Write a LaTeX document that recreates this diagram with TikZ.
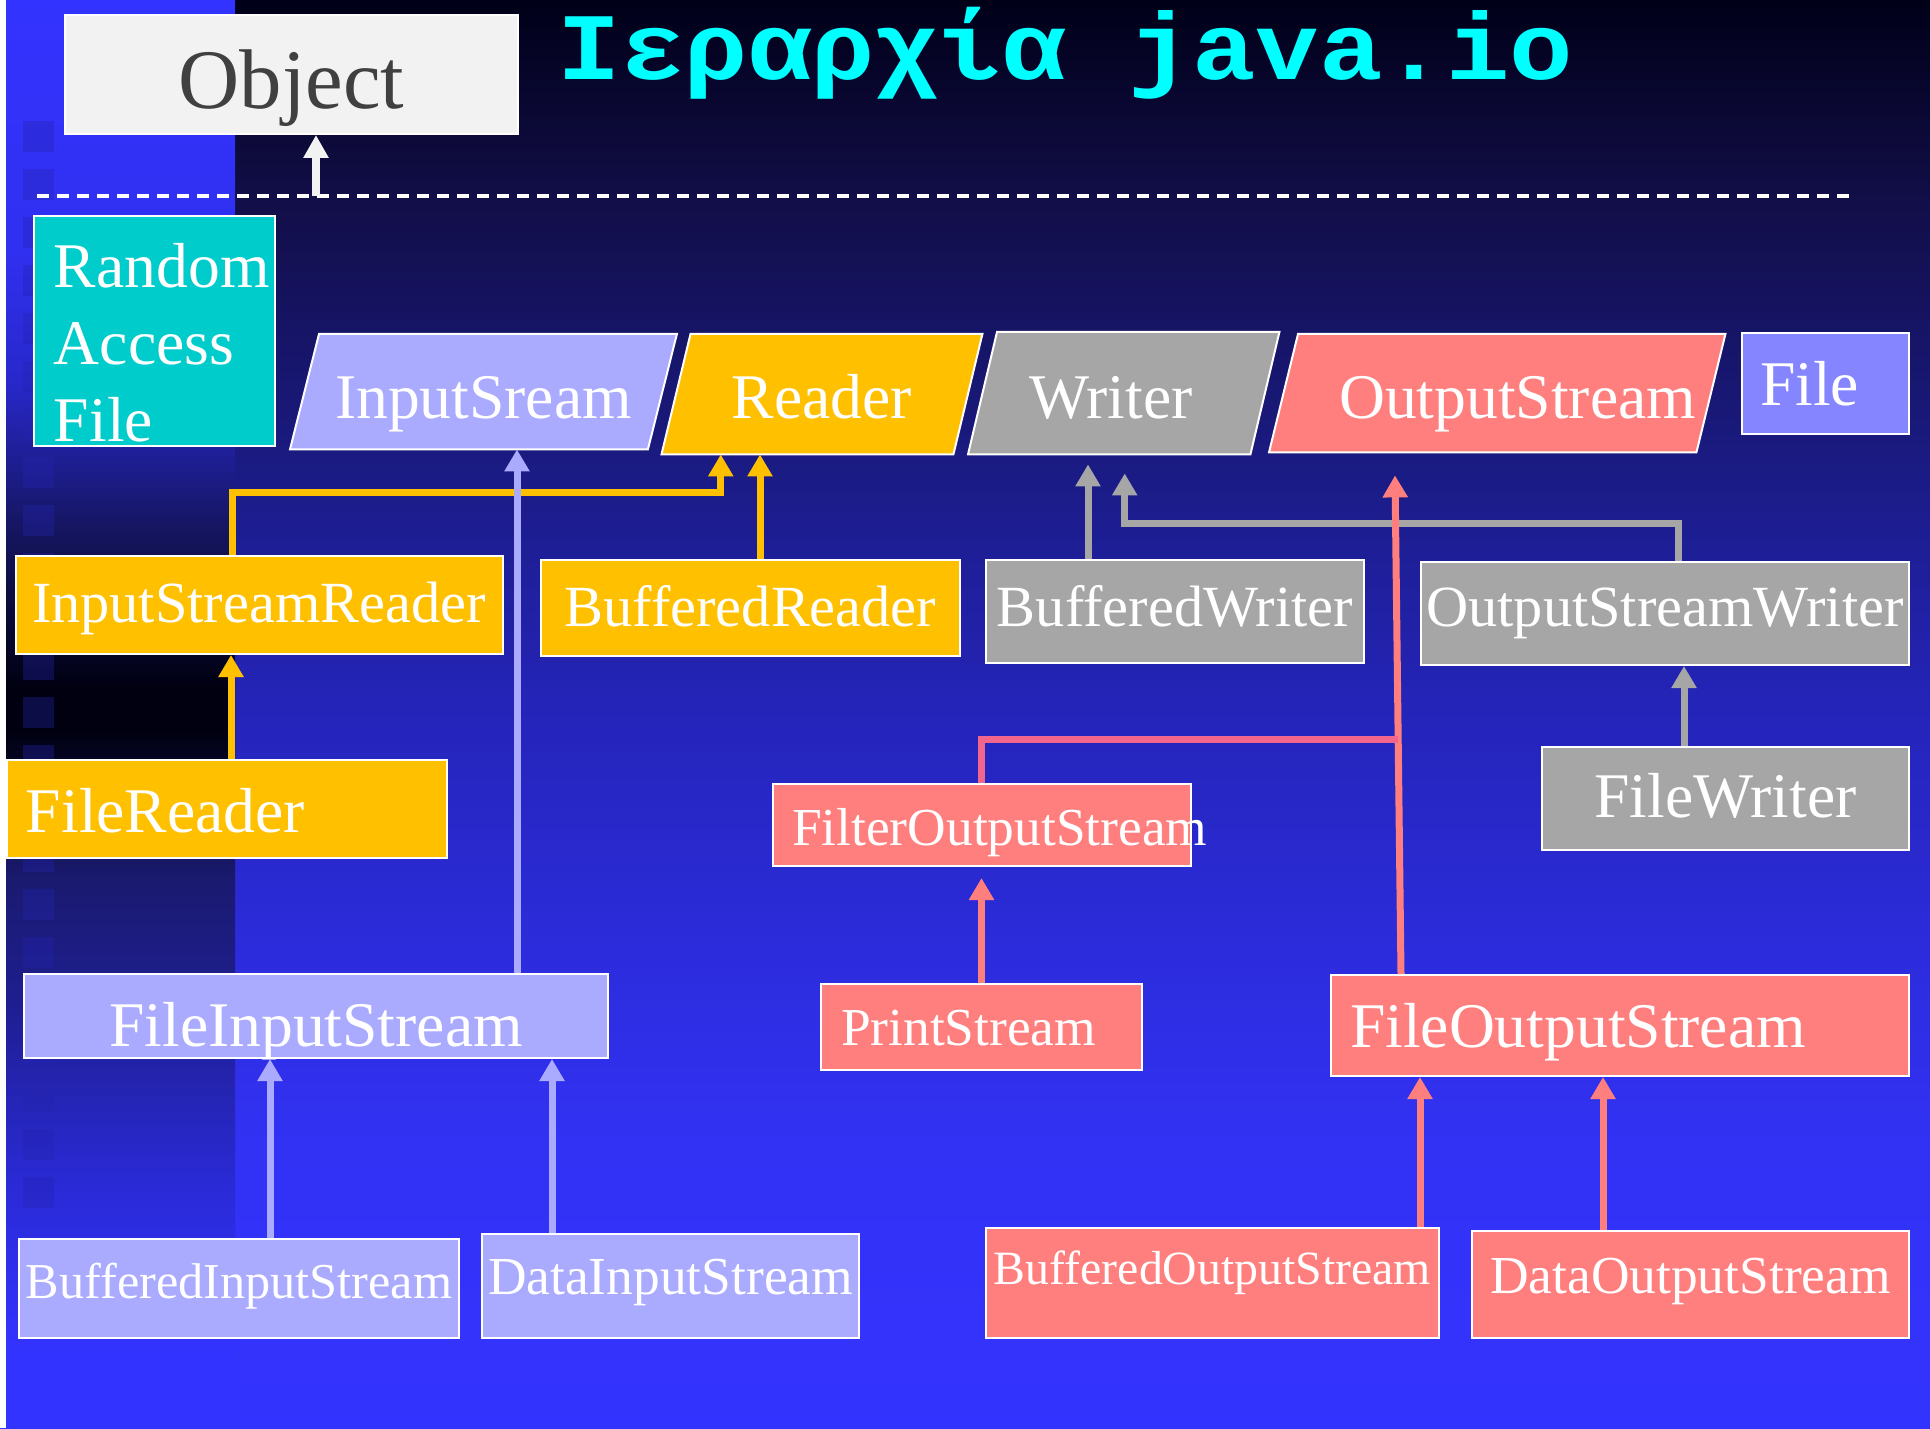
\documentclass[tikz,border=0pt]{standalone}
\usepackage{fontspec}
\setmainfont{Liberation Serif}
\newfontfamily\headfont{Liberation Mono}
\usetikzlibrary{positioning}
\usetikzlibrary{calc}
\usetikzlibrary{arrows.meta}
\hyphenpenalty=10000
\uchyph=0

\definecolor{objfill}{HTML}{F2F2F2}
\definecolor{objtext}{HTML}{404040}
\definecolor{rafill}{HTML}{00CCCC}
\definecolor{infill}{HTML}{AAAAFF}
\definecolor{rdfill}{HTML}{FFC000}
\definecolor{wrfill}{HTML}{A6A6A6}
\definecolor{osfill}{HTML}{FF7F7F}
\definecolor{filefill}{HTML}{8585FF}
\definecolor{joinpink}{HTML}{F2668E}
\definecolor{titlecyan}{HTML}{00FFFF}
\definecolor{sqfill}{HTML}{2424B0}
% slide background
\definecolor{bgA}{HTML}{3333FF}
\definecolor{bgB}{HTML}{3232F5}
\definecolor{bgC}{HTML}{2C2CDC}
\definecolor{bgD}{HTML}{2424B8}
\definecolor{bgE}{HTML}{1A1A80}
\definecolor{bgF}{HTML}{120E48}
\definecolor{bgG}{HTML}{000018}
% left strip
\definecolor{stA}{HTML}{3333FF}
\definecolor{stB}{HTML}{2A2AD5}
\definecolor{stC}{HTML}{1E1E90}
\definecolor{stD}{HTML}{1A1A70}
\definecolor{stE}{HTML}{000010}
\definecolor{stF}{HTML}{151560}
\definecolor{stG}{HTML}{2828CC}
\definecolor{stH}{HTML}{3030F0}

\pgfdeclareverticalshading{slidebg}{100bp}{color(0bp)=(bgA); color(25bp)=(bgA);
  color(34.73bp)=(bgB); color(41.74bp)=(bgC); color(50.49bp)=(bgD);
  color(59.24bp)=(bgE); color(68bp)=(bgF); color(75bp)=(bgG); color(100bp)=(bgG)}
\pgfdeclareverticalshading{stripbg}{100bp}{color(0bp)=(stA); color(27.73bp)=(stA);
  color(33.68bp)=(stB); color(39.99bp)=(stC); color(44.19bp)=(stD);
  color(49.44bp)=(stE); color(50.84bp)=(stE); color(56.44bp)=(stF);
  color(61.7bp)=(stG); color(66.25bp)=(stH); color(75bp)=(stA); color(100bp)=(stA)}

\pgfdeclarelayer{back}
\pgfsetlayers{back,main}

\tikzset{
  cls/.style={draw=white, line width=0.2mm, text=white, inner sep=0pt, anchor=north west},
  ptext/.style={text=white, inner sep=0pt, anchor=north west},
  fbig/.style={font=\fontsize{18.1}{21.8}\selectfont},
  fmid/.style={font=\fontsize{16.6}{20}\selectfont},
  fsml/.style={font=\fontsize{15.2}{18}\selectfont},
  heading/.style={anchor=base west, inner sep=0pt, text=titlecyan,
    font=\headfont\bfseries\fontsize{30.1}{36}\selectfont},
  link/.style={line width=0.7mm, -{Triangle[width=2.4mm, length=2.2mm]}},
  yarrow/.style={link, draw=rdfill},
  iarrow/.style={link, draw=infill},
  warrow/.style={link, draw=wrfill},
  oarrow/.style={link, draw=osfill},
}

\begin{document}
\begin{tikzpicture}[x=0.1mm, y=-0.1mm]
\useasboundingbox (0,0) rectangle (1930,1428);

\begin{pgfonlayer}{back}
\shade[shading=slidebg] (0,0) rectangle (1930,1428);
\shade[shading=stripbg] (6,0) rectangle (235,1428);
\fill[white] (0,0) rectangle (6,1428);
\foreach \k in {0,...,22}
  \fill[sqfill, opacity=0.35] (23,{121+48*\k}) rectangle ++(31,31);
\end{pgfonlayer}

% title and root
\node[heading] (title) at (557,80) {\scalebox{1}[0.9]{Ιεραρχία java.io}};
\node[cls, fill=objfill, text=objtext, font=\fontsize{24.1}{29}\selectfont,
  minimum width=45.3mm, text height=9.4mm, text depth=2.5mm] (obj) at (64,14) {Object};
\draw[white, line width=0.45mm, dash pattern=on 1.2mm off 0.8mm] (37,196) -- (1850,196);
\coordinate (sep) at (316,196);
\draw[line width=0.8mm, objfill, -{Triangle[width=2.4mm, length=2.3mm]}] (sep) -- (sep |- obj.south);

\node[cls, fill=rafill, fbig, align=left, inner xsep=2mm, text width=20.1mm,
  text height=7.2mm, text depth=15.8mm] (raf) at (33,215) {Random\\Access\\File};

% abstract classes
\node[ptext, fbig, minimum width=35.65mm, text height=8.4mm, text depth=3mm] (instream) at (304.5,334) {InputSream};
\node[ptext, fbig, minimum width=29.05mm, text height=8.4mm, text depth=3.5mm] (reader) at (676,334) {Reader};
\node[ptext, fbig, align=left, inner xsep=4.6mm, text width=18.9mm, text height=8.6mm, text depth=3.5mm] (writer) at (982.5,332) {Writer};
\node[ptext, fbig, align=left, inner xsep=5.5mm, text width=31.6mm, text height=8.4mm, text depth=3.3mm] (outstream) at (1283.5,334) {OutputStream};
\node[cls, fill=filefill, fbig, align=left, inner xsep=1.8mm, text width=13.1mm,
  text height=7.2mm, text depth=2.9mm] (file) at (1741,332) {File};

% second row
\node[cls, fill=rdfill, fmid, align=left, inner xsep=1.6mm, text width=45.5mm,
  text height=6.6mm, text depth=3.2mm] (isr) at (15,555) {InputStreamReader};
\node[cls, fill=rdfill, fmid, minimum width=41.9mm, text height=6.6mm, text depth=3mm] (bufreader) at (540,559) {BufferedReader};
\node[cls, fill=wrfill, fmid, minimum width=37.8mm, text height=6.6mm, text depth=3.7mm] (bufwriter) at (985,559) {BufferedWriter};
\node[cls, fill=wrfill, fmid, minimum width=48.8mm, text height=6.4mm, text depth=3.9mm] (oswriter) at (1420,561) {OutputStreamWriter};

% third row
\node[cls, fill=rdfill, fbig, align=left, inner xsep=1.9mm, text width=40.2mm,
  text height=7.2mm, text depth=2.6mm] (filereader) at (6,759) {FileReader};
\node[cls, fill=osfill, fsml, align=left, inner xsep=1.9mm, text width=38mm,
  text height=6.1mm, text depth=2.1mm] (filterout) at (772,783) {FilterOutputStream};
\node[cls, fill=wrfill, fbig, minimum width=36.7mm, text height=7mm, text depth=3.3mm] (filewriter) at (1541,746) {FileWriter};

% fourth row
\node[cls, fill=infill, fbig, minimum width=58.4mm, text height=7.2mm, text depth=1.2mm] (fis) at (23,973) {FileInputStream};
\node[cls, fill=osfill, fsml, align=left, inner xsep=2mm, text width=28.1mm,
  text height=6.1mm, text depth=2.5mm] (printstream) at (820,983) {PrintStream};
\node[cls, fill=osfill, fbig, align=left, inner xsep=1.9mm, text width=54mm,
  text height=7.2mm, text depth=2.9mm] (fos) at (1330,974) {FileOutputStream};

% fifth row
\node[cls, fill=infill, font=\fontsize{14.3}{17}\selectfont, minimum width=44mm,
  text height=5.9mm, text depth=4mm] (bis) at (18,1238) {BufferedInputStream};
\node[cls, fill=infill, fsml, minimum width=37.7mm, text height=6mm, text depth=4.4mm] (dis) at (481,1233) {DataInputStream};
\node[cls, fill=osfill, font=\fontsize{13.6}{16}\selectfont, minimum width=45.3mm,
  text height=5.6mm, text depth=5.4mm] (bos) at (985,1227) {BufferedOutputStream};
\node[cls, fill=osfill, fsml, minimum width=43.7mm, text height=6.2mm, text depth=4.5mm] (dos) at (1471,1230) {DataOutputStream};

% slanted boxes behind their labels
\begin{pgfonlayer}{back}
\foreach \nd/\col in {instream/infill, reader/rdfill, writer/wrfill, outstream/osfill}
  \filldraw[fill=\col, draw=white, line width=0.2mm]
    ([xshift=1.45mm]\nd.north west) -- ([xshift=1.45mm]\nd.north east)
    -- ([xshift=-1.45mm]\nd.south east) -- ([xshift=-1.45mm]\nd.south west) -- cycle;
\end{pgfonlayer}

% readers and writers
\draw[yarrow] ([xshift=0.4mm]filereader.north) -- ([xshift=0.4mm]filereader.north |- isr.south);
\draw[yarrow] ([xshift=-2.75mm]isr.north) -- ++(0,-63) -| ([xshift=-10.12mm]reader.south);
\draw[yarrow] ([xshift=0.95mm]bufreader.north) -- ([xshift=0.95mm]bufreader.north |- reader.south);
\draw[warrow, shorten >=1mm] ([xshift=-8.7mm]bufwriter.north) -- ([xshift=-8.7mm]bufwriter.north |- writer.south);
\draw[warrow, shorten >=1.9mm] ([xshift=1.3mm]oswriter.north) -- ++(0,-38) -| ([xshift=0.1mm]writer.south);
\draw[warrow] ([xshift=-4.15mm]filewriter.north) -- ([xshift=-4.15mm]filewriter.north |- oswriter.south);

% streams
\draw[iarrow] ([xshift=20.1mm]fis.north) -- ([xshift=20.1mm]fis.north |- instream.south);
\draw[iarrow] ([xshift=3.1mm]bis.north) -- ([xshift=3.1mm]bis.north |- fis.south);
\draw[iarrow] ([xshift=-11.85mm]dis.north) -- ([xshift=-11.85mm]dis.north |- fis.south);
\draw[oarrow, shorten >=2.3mm] ([xshift=-21.9mm]fos.north) -- ([xshift=-10.25mm]outstream.south);
\coordinate (osjoin) at ($([xshift=-21.9mm]fos.north)!0.45!([xshift=-10.25mm]outstream.south)$);
\draw[joinpink, line width=0.7mm] ([xshift=-0.1mm]filterout.north) |- (osjoin);
\draw[oarrow, shorten >=1.1mm] (printstream.north) -- (printstream.north |- filterout.south);
\draw[oarrow] ([xshift=20.75mm]bos.north) -- ([xshift=20.75mm]bos.north |- fos.south);
\draw[oarrow] ([xshift=-8.75mm]dos.north) -- ([xshift=-8.75mm]dos.north |- fos.south);
\end{tikzpicture}
\end{document}
